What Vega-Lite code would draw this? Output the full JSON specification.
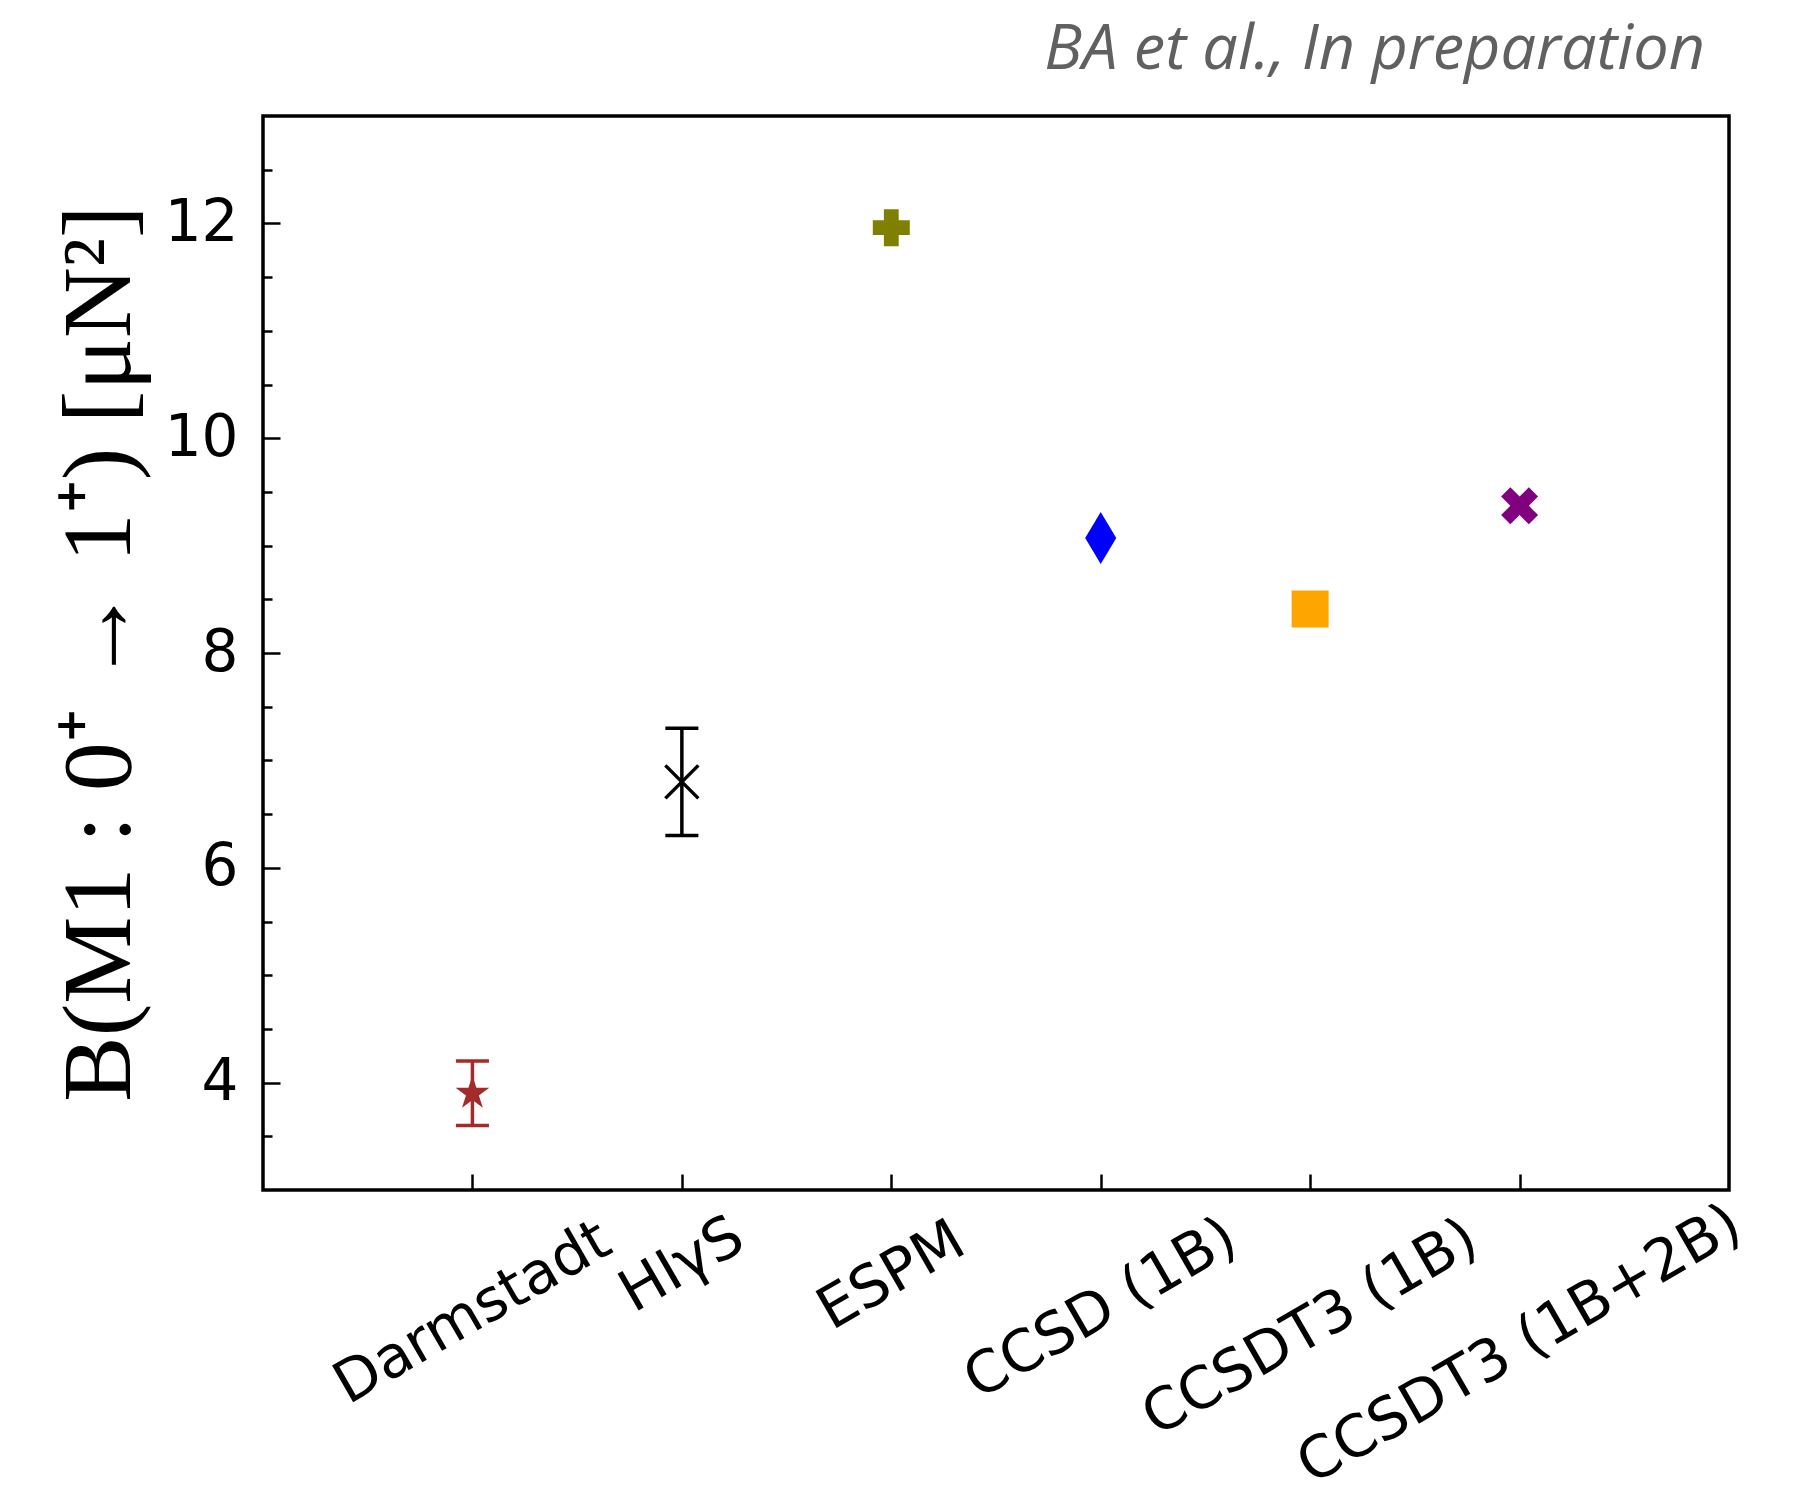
{
  "$schema": "https://vega.github.io/schema/vega-lite/v6.json",
  "width": 1466,
  "height": 1074,
  "autosize": {"type": "none"},
  "padding": {"left": 263, "top": 116, "right": 70, "bottom": 309},
  "background": "white",
  "title": {
    "text": "BA et al., In preparation",
    "anchor": "end",
    "frame": "group",
    "font": "Open Sans",
    "fontSize": 63,
    "fontStyle": "italic",
    "fontWeight": "normal",
    "color": "#606060",
    "baseline": "alphabetic",
    "offset": -16,
    "dx": -24
  },
  "config": {
    "view": {"stroke": "black", "strokeWidth": 3.5},
    "axis": {"grid": false, "domain": false}
  },
  "data": {
    "values": [
      {"name": "Darmstadt", "value": 3.9, "lo": 3.6, "hi": 4.2},
      {"name": "HIγS", "value": 6.8, "lo": 6.3, "hi": 7.3},
      {"name": "ESPM", "value": 11.96},
      {"name": "CCSD (1B)", "value": 9.07},
      {"name": "CCSDT3 (1B)", "value": 8.41},
      {"name": "CCSDT3 (1B+2B)", "value": 9.37}
    ]
  },
  "encoding": {
    "x": {
      "field": "name",
      "type": "nominal",
      "sort": null,
      "scale": {"type": "point", "padding": 1, "domain": ["Darmstadt", "HIγS", "ESPM", "CCSD (1B)", "CCSDT3 (1B)", "CCSDT3 (1B+2B)"]},
      "axis": {
        "title": null,
        "ticks": true,
        "tickSize": -16,
        "tickWidth": 2.5,
        "tickColor": "black",
        "labelAngle": -30,
        "labelAlign": "center",
        "labelBaseline": "middle",
        "labelFont": "DejaVu Sans",
        "labelFontSize": 58,
        "labelColor": "black",
        "labelLimit": 2000,
        "labelPadding": {"expr": "datum.value == 'Darmstadt' ? 139 : datum.value == 'HIγS' ? 91 : datum.value == 'ESPM' ? 102 : datum.value == 'CCSD (1B)' ? 135 : datum.value == 'CCSDT3 (1B)' ? 154 : 171"},
        "labelOverlap": false,
        "labelBound": false,
        "labelFlush": false
      }
    },
    "color": {
      "field": "name",
      "type": "nominal",
      "scale": {
        "domain": ["Darmstadt", "HIγS", "ESPM", "CCSD (1B)", "CCSDT3 (1B)", "CCSDT3 (1B+2B)"],
        "range": ["#a52a2a", "#000000", "#808000", "#0000ff", "#ffa500", "#800080"]
      },
      "legend": null
    }
  },
  "layer": [
    {
      "mark": {"type": "rule", "strokeWidth": 3.5},
      "encoding": {
        "y": {
          "field": "lo",
          "type": "quantitative",
          "scale": {"domain": [3, 13], "nice": false, "zero": false},
          "axis": {
            "title": "B(M1 : 0⁺ → 1⁺) [μN²]",
            "values": [3.5, 4, 4.5, 5, 5.5, 6, 6.5, 7, 7.5, 8, 8.5, 9, 9.5, 10, 10.5, 11, 11.5, 12, 12.5],
            "labelExpr": "datum.value % 2 == 0 ? toString(datum.value) : ''",
            "tickSize": -17,
            "tickDash": {"condition": {"test": "datum.value % 2 == 0", "value": [20, 20]}, "value": [9, 30]},
            "tickWidth": 2.5,
            "tickColor": "black",
            "labelFont": "DejaVu Sans",
            "labelFontSize": 58,
            "labelColor": "black",
            "labelPadding": 42,
            "labelOverlap": false,
            "labelBound": false,
            "labelFlush": false,
            "titleFont": "Liberation Serif",
            "titleFontSize": 98,
            "titleFontWeight": "normal",
            "titleColor": "black",
            "titleAngle": -90,
            "titleAlign": "center",
            "titleBaseline": "alphabetic",
            "titleX": -134,
            "titleY": 537
          }
        },
        "y2": {"field": "hi"}
      }
    },
    {
      "mark": {"type": "tick", "orient": "horizontal", "size": 33, "thickness": 3.5, "opacity": 1},
      "encoding": {"y": {"field": "lo", "type": "quantitative", "title": "B(M1 : 0⁺ → 1⁺) [μN²]"}}
    },
    {
      "mark": {"type": "tick", "orient": "horizontal", "size": 33, "thickness": 3.5, "opacity": 1},
      "encoding": {"y": {"field": "hi", "type": "quantitative", "title": "B(M1 : 0⁺ → 1⁺) [μN²]"}}
    },
    {
      "transform": [{"filter": "datum.name != 'HIγS'"}],
      "mark": {"type": "point", "filled": true, "opacity": 1, "strokeWidth": 0, "size": 1369},
      "encoding": {
        "y": {"field": "value", "type": "quantitative", "title": "B(M1 : 0⁺ → 1⁺) [μN²]"},
        "shape": {
          "field": "name",
          "type": "nominal",
          "scale": {
            "domain": ["Darmstadt", "ESPM", "CCSD (1B)", "CCSDT3 (1B)", "CCSDT3 (1B+2B)"],
            "range": [
              "M0,-0.96L0.2155,-0.2966L0.913,-0.2966L0.3488,0.1133L0.5643,0.7766L0,0.3667L-0.5643,0.7766L-0.3488,0.1133L-0.913,-0.2966L-0.2155,-0.2966Z",
              "cross",
              "M0,-1.405L0.84,0L0,1.405L-0.84,0Z",
              "square",
              "M0.5,-1L1,-0.5L0.5,0L1,0.5L0.5,1L0,0.5L-0.5,1L-1,0.5L-0.5,0L-1,-0.5L-0.5,-1L0,-0.5Z"
            ]
          },
          "legend": null
        }
      }
    },
    {
      "transform": [{"filter": "datum.name == 'HIγS'"}],
      "mark": {"type": "point", "filled": false, "opacity": 1, "strokeWidth": 3.5, "shape": "M-1,-1L1,1M-1,1L1,-1", "size": 1089},
      "encoding": {
        "y": {"field": "value", "type": "quantitative", "title": "B(M1 : 0⁺ → 1⁺) [μN²]"}
      }
    }
  ]
}
